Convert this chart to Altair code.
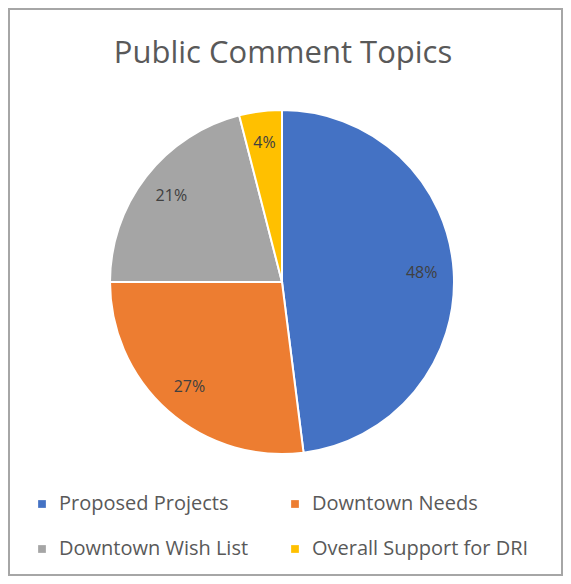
import altair as alt
import pandas as pd

categories = ["Proposed Projects", "Downtown Needs", "Downtown Wish List", "Overall Support for DRI"]
values = [48, 27, 21, 4]
labels = ["48%", "27%", "21%", "4%"]
colors = ["#4472C4", "#ED7D31", "#A5A5A5", "#FFC000"]
title_text = ["Public Comment Topics"]

df = pd.DataFrame({"topic": categories, "value": values, "label": labels, "order": list(range(len(categories)))})
tdf = pd.DataFrame({"t": title_text})

W, H = 553, 566
CX, CY = 273, 273
R = 172
FONT = "Open Sans"

base = alt.Chart(df).encode(
    theta=alt.Theta("value:Q", stack=True),
    order=alt.Order("order:Q"),
    x=alt.value(CX),
    y=alt.value(CY),
)

pie = base.mark_arc(outerRadius=R, stroke="white", strokeWidth=2).encode(
    color=alt.Color(
        "topic:N",
        scale=alt.Scale(domain=categories, range=colors),
        legend=alt.Legend(
            title=None,
            orient="none",
            legendX=23,
            legendY=485,
            direction="horizontal",
            columns=2,
            symbolType="square",
            symbolSize=60,
            symbolStrokeWidth=0,
            labelFont=FONT,
            labelFontSize=20,
            labelColor="#595959",
            labelOffset=7,
            columnPadding=36,
            rowPadding=25,
            labelLimit=400,
        ),
    ),
)

text = base.mark_text(radius=140, font=FONT, fontSize=16, color="#404040").encode(
    text="label:N"
)

title = alt.Chart(tdf).mark_text(font=FONT, fontSize=31, color="#595959", baseline="middle").encode(
    text="t:N", x=alt.value(274), y=alt.value(45)
)

chart = (
    alt.layer(pie, text, title)
    .properties(width=W, height=H, padding=1, autosize="none", background="white")
    .configure_view(stroke="#A6A6A6", strokeWidth=2)
)

chart.save("out.html", embed_options={"renderer": "svg", "actions": False})
